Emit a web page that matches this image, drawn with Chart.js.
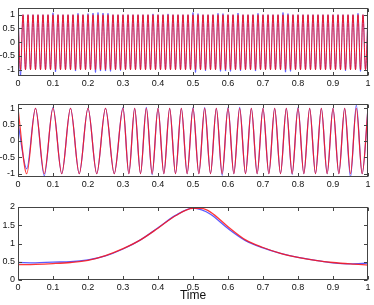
<!DOCTYPE html>
<html>
<head>
<meta charset="utf-8">
<script src="https://cdn.jsdelivr.net/npm/chart.js@4"></script>
<style>
  html, body { margin: 0; padding: 0; background: #fff; }
  #wrap { position: relative; width: 374px; height: 305px; }
  .panel { position: absolute; left: 0; width: 374px; }
</style>
</head>
<body>
<div id="wrap">
  <div class="panel" style="top:0;height:92px"><canvas id="c1"></canvas></div>
  <div class="panel" style="top:95px;height:98px"><canvas id="c2"></canvas></div>
  <div class="panel" style="top:193px;height:112px"><canvas id="c3"></canvas></div>
</div>
<script>
/* three stacked panels: fast component, chirp component, slow trend */

// shared x axis
const xTicks = [0, 0.1, 0.2, 0.3, 0.4, 0.5, 0.6, 0.7, 0.8, 0.9, 1];
const xTickLabels = ['0', '0.1', '0.2', '0.3', '0.4', '0.5', '0.6', '0.7', '0.8', '0.9', '1'];

// panel 1 - extrema of the fast oscillation
const topTimes = [
  0, .0071, .0143, .0214, .0286, .0357, .0429,
  .05, .0571, .0643, .0714, .0786, .0857, .0929,
  .1, .1071, .1143, .1214, .1286, .1357, .1429,
  .15, .1571, .1643, .1714, .1786, .1857, .1929,
  .2, .2071, .2143, .2214, .2286, .2357, .2429,
  .25, .2571, .2643, .2714, .2786, .2857, .2929,
  .3, .3071, .3143, .3214, .3286, .3357, .3429,
  .35, .3571, .3643, .3714, .3786, .3857, .3929,
  .4, .4071, .4143, .4214, .4286, .4357, .4429,
  .45, .4571, .4643, .4714, .4786, .4857, .4929,
  .5, .5071, .5143, .5214, .5286, .5357, .5429,
  .55, .5571, .5643, .5714, .5786, .5857, .5929,
  .6, .6071, .6143, .6214, .6286, .6357, .6429,
  .65, .6571, .6643, .6714, .6786, .6857, .6929,
  .7, .7071, .7143, .7214, .7286, .7357, .7429,
  .75, .7571, .7643, .7714, .7786, .7857, .7929,
  .8, .8071, .8143, .8214, .8286, .8357, .8429,
  .85, .8571, .8643, .8714, .8786, .8857, .8929,
  .9, .9071, .9143, .9214, .9286, .9357, .9429,
  .95, .9571, .9643, .9714, .9786, .9857, .9929,
  1
];
const topRed = [
  1, -1, 1, -1, 1, -1, 1,
  -1, 1, -1, 1, -1, 1, -1,
  1, -1, 1, -1, 1, -1, 1,
  -1, 1, -1, 1, -1, 1, -1,
  1, -1, 1, -1, 1, -1, 1,
  -1, 1, -1, 1, -1, 1, -1,
  1, -1, 1, -1, 1, -1, 1,
  -1, 1, -1, 1, -1, 1, -1,
  1, -1, 1, -1, 1, -1, 1,
  -1, 1, -1, 1, -1, 1, -1,
  1, -1, 1, -1, 1, -1, 1,
  -1, 1, -1, 1, -1, 1, -1,
  1, -1, 1, -1, 1, -1, 1,
  -1, 1, -1, 1, -1, 1, -1,
  1, -1, 1, -1, 1, -1, 1,
  -1, 1, -1, 1, -1, 1, -1,
  1, -1, 1, -1, 1, -1, 1,
  -1, 1, -1, 1, -1, 1, -1,
  1, -1, 1, -1, 1, -1, 1,
  -1, 1, -1, 1, -1, 1, -1,
  1
];
const topBlue = [
  1.22, -1.22, 1, -1, 1, -1, 1,
  -1, 1, -1, 1, -1, 1, -1,
  1.07, -1.08, 1, -1, 1, -1, 1,
  -1, 1, -1.05, 1.05, -1, 1, -1,
  1.04, -1, 1.06, -1.1, 1.08, -1.05, 1.06,
  -1.05, 1.05, -1.06, 1, -1, 1, -1.03,
  1, -1, 1, -1, 1, -1, 1,
  -1, 1, -1, 1, -1, 1.03, -1,
  1, -1, 1, -1, 1.03, -1, 1,
  -1, 1, -1, 1, -1, 1, -1,
  1.08, -1.1, 1.04, -1, 1, -1.04, 1,
  -1, 1, -1, 1.05, -1.06, 1.04, -1.05,
  1, -1.06, 1, -1, 1.06, -1.04, 1,
  -1, 1, -1, 1, -1.05, 1.05, -1,
  1, -1, 1, -1, 1, -1, 1,
  -1, 1.08, -1.09, 1.04, -1.06, 1, -1,
  1, -1, 1, -1, 1, -1, 1,
  -1, 1, -1, 1, -1, 1, -1,
  1, -1, 1, -1, 1, -1.04, 1,
  -1, 1, -1, 1.05, -1.06, 1, -1,
  1
];
const topYTicks = [-1, -0.5, 0, 0.5, 1];

// panel 2 - extrema of the chirp (20 Hz, then 30 Hz after t = 0.3)
const midTimes = [
  0, .025, .05, .075, .1, .125, .15, .175, .2, .225, .25, .275, .3,
  .3167, .3333, .35, .3667, .3833, .4, .4167, .4333, .45, .4667, .4833, .5,
  .5167, .5333, .55, .5667, .5833, .6, .6167, .6333, .65, .6667, .6833, .7,
  .7167, .7333, .75, .7667, .7833, .8, .8167, .8333, .85, .8667, .8833, .9,
  .9167, .9333, .95, .9667, .9833, 1
];
const midRed = [
  1, -1, 1, -1, 1, -1, 1, -1, 1, -1, 1, -1, 1,
  -1, 1, -1, 1, -1, 1, -1, 1, -1, 1, -1, 1,
  -1, 1, -1, 1, -1, 1, -1, 1, -1, 1, -1, 1,
  -1, 1, -1, 1, -1, 1, -1, 1, -1, 1, -1, 1,
  -1, 1, -1, 1, -1, 1
];
const midBlue = [
  0.55, -0.85, 1, -1.06, 1.03, -1, 1, -1, 1, -1, 1, -1, 1.02,
  -1, 1, -1, 1.03, -1.03, 1, -1, 1, -1, 1, -1, 1.02,
  -1, 1.02, -1, 1, -1.05, 1.02, -1, 1.03, -1, 1, -1, 1,
  -1, 1, -1, 1, -1.02, 1.02, -1, 1, -1, 1, -1, 1,
  -1, 1, -1.1, 1.1, -1, 1
];
const midYTicks = [-1, -0.5, 0, 0.5, 1];

// panel 3 - slow trend
const lowTimes = [0, .05, .1, .15, .2, .25, .3, .35, .4, .45, .5, .525, .55, .6, .65, .7, .75, .8, .85, .9, .95, 1];
const lowBlue  = [0.48, 0.47, 0.49, 0.50, 0.55, 0.66, 0.85, 1.10, 1.43, 1.77, 1.97, 1.92, 1.80, 1.41, 1.08, 0.88, 0.73, 0.62, 0.54, 0.47, 0.44, 0.46];
const lowRed   = [0.42, 0.43, 0.45, 0.48, 0.54, 0.67, 0.86, 1.10, 1.42, 1.76, 1.96, 1.96, 1.86, 1.46, 1.10, 0.89, 0.73, 0.62, 0.54, 0.48, 0.44, 0.41];
const lowYTicks = [0, 0.5, 1, 1.5, 2];

const BLUE = 'rgba(60,60,255,0.85)';
const FONT = { family: '"Liberation Sans", Arial, sans-serif', size: 9 };

// box round the plot area with inward ticks on all four sides
const frame = {
  id: 'frame',
  afterDatasetsDraw(chart) {
    const { ctx, chartArea: a, scales: { x, y } } = chart;
    const L = Math.round(a.left) + 0.5, R = Math.round(a.right) - 0.5;
    const T = Math.round(a.top) + 0.5, B = Math.round(a.bottom) - 0.5;
    ctx.save();
    ctx.strokeStyle = '#444';
    ctx.lineWidth = 1;
    ctx.beginPath();
    x.ticks.forEach(t => {
      const px = Math.round(x.getPixelForValue(t.value)) + 0.5;
      ctx.moveTo(px, B); ctx.lineTo(px, B - 3.5);
      ctx.moveTo(px, T); ctx.lineTo(px, T + 3.5);
    });
    y.ticks.forEach(t => {
      const py = Math.round(y.getPixelForValue(t.value)) + 0.5;
      ctx.moveTo(L, py); ctx.lineTo(L + 3.5, py);
      ctx.moveTo(R, py); ctx.lineTo(R - 3.5, py);
    });
    ctx.stroke();
    ctx.strokeRect(L, T, R - L, B - T);
    ctx.restore();
  }
};

function pts(xs, ys) {
  return xs.map((t, i) => ({ x: t, y: ys[i] }));
}

function panel(id, opt) {
  new Chart(document.getElementById(id), {
    type: 'line',
    data: {
      datasets: [
        { data: pts(opt.times, opt.red), borderColor: opt.red_c, borderWidth: opt.lw, pointRadius: 0, cubicInterpolationMode: 'monotone', fill: false },
        { data: pts(opt.times, opt.blue), borderColor: BLUE, borderWidth: opt.lw, pointRadius: 0, cubicInterpolationMode: 'monotone', fill: false }
      ]
    },
    options: {
      responsive: true, maintainAspectRatio: false, animation: false,
      layout: { padding: { top: opt.padTop, right: 6, left: 0, bottom: 0 } },
      plugins: { legend: { display: false }, tooltip: { enabled: false } },
      scales: {
        x: {
          type: 'linear', min: 0, max: 1,
          grid: { display: false, drawTicks: false }, border: { display: false },
          ticks: { padding: 2, font: FONT, color: '#111', maxRotation: 0, autoSkip: false, callback: (v, i) => xTickLabels[i] },
          afterBuildTicks: s => { s.ticks = xTicks.map(v => ({ value: v })); },
          afterFit: s => { s.height = opt.xh; },
          title: opt.title ? { display: true, text: opt.title, color: '#111', padding: { top: 0, bottom: 2 }, font: { family: FONT.family, size: 12 } } : { display: false }
        },
        y: {
          min: opt.ymin, max: opt.ymax,
          grid: { display: false, drawTicks: false }, border: { display: false },
          ticks: { padding: 3, font: FONT, color: '#111', callback: v => String(v) },
          afterBuildTicks: s => { s.ticks = opt.yticks.map(v => ({ value: v })); },
          afterFit: s => { s.width = 18; }
        }
      }
    },
    plugins: [frame]
  });
}

panel('c1', { times: topTimes, red: topRed, blue: topBlue, red_c: 'rgba(255,10,10,0.95)', yticks: topYTicks, ymin: -1.23, ymax: 1.23, padTop: 2, xh: 16, lw: 0.9 });
panel('c2', { times: midTimes, red: midRed, blue: midBlue, red_c: 'rgba(255,20,20,0.85)', yticks: midYTicks, ymin: -1.1, ymax: 1.13, padTop: 9, xh: 16, lw: 1.2 });
panel('c3', { times: lowTimes, red: lowRed, blue: lowBlue, red_c: 'rgba(255,20,20,0.85)', yticks: lowYTicks, ymin: 0, ymax: 2, padTop: 14, xh: 25, lw: 1.3, title: 'Time' });
</script>
</body>
</html>
